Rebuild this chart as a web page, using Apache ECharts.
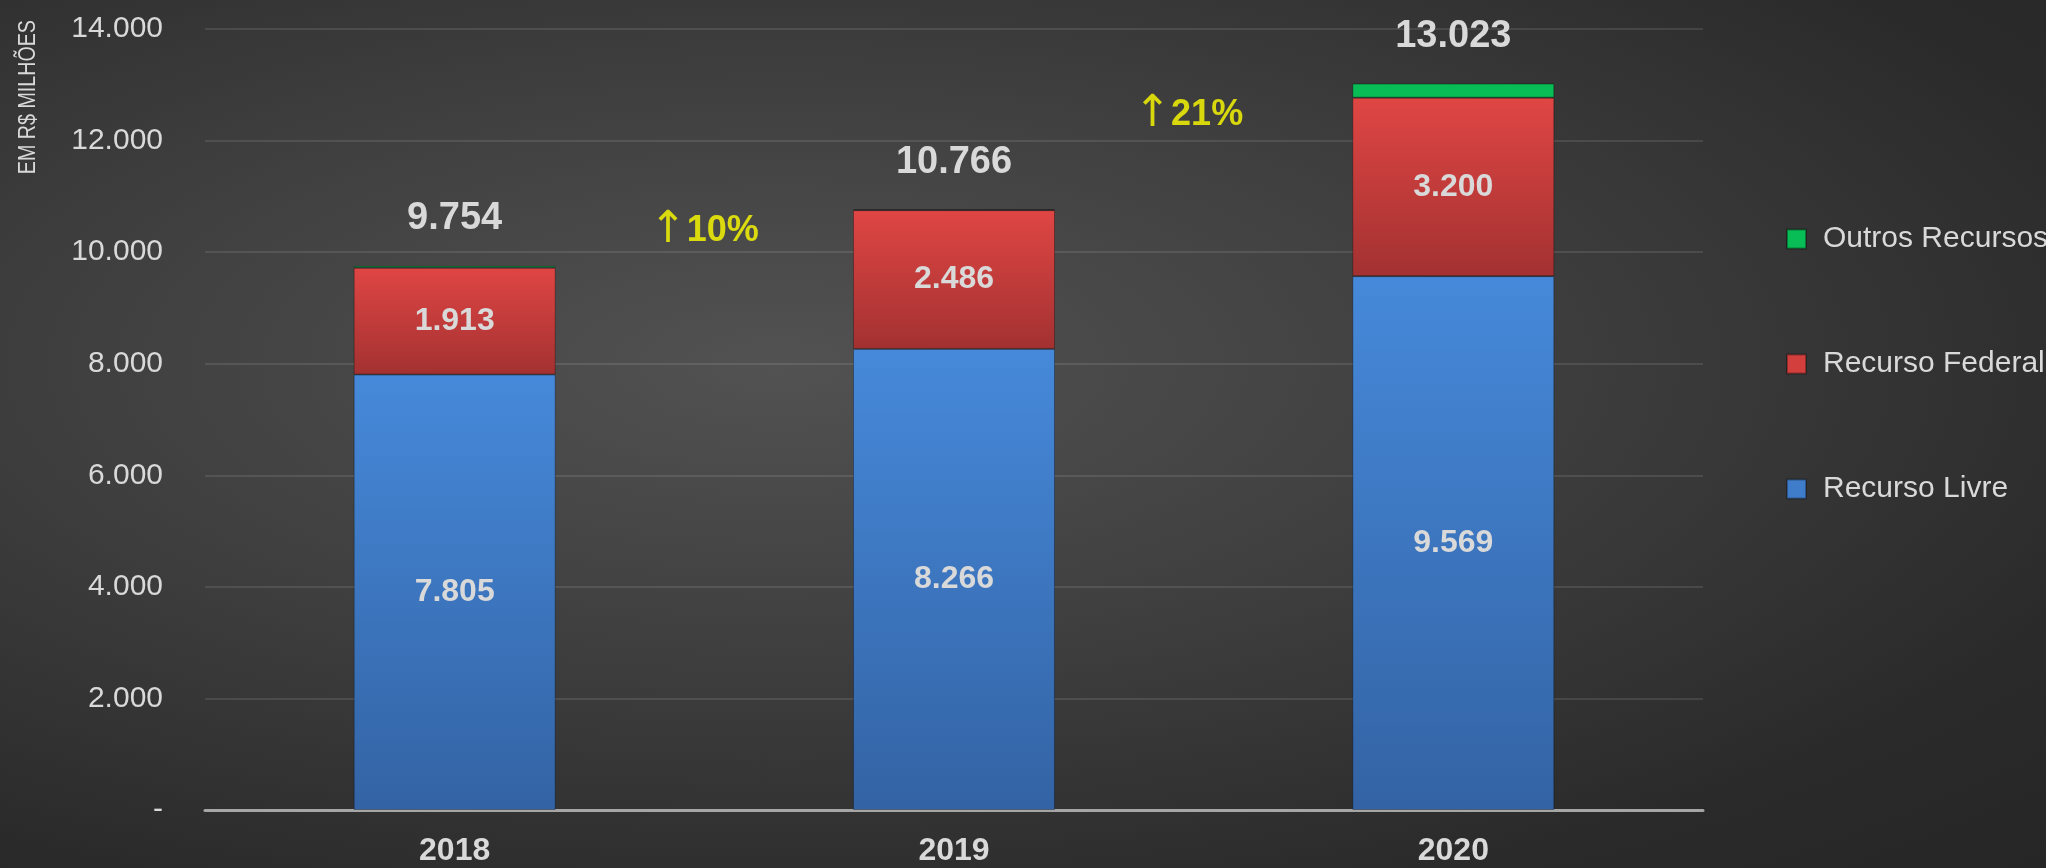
<!DOCTYPE html>
<html lang="pt-BR">
	<head>
		<meta charset="UTF-8" />
		<title>Recursos</title>
		<style>
			body {
				margin: 0;
				padding: 0;
				background: radial-gradient(ellipse at 38% 42%, #525252 0%, #3f3f3f 40%, #2a2a2a 80%, #262626 100%);
			}
			.chart {
				width: 2046px;
				height: 868px;
			}
		</style>
	</head>
	<body>
		<div class="chart"></div>
		<script src="https://cdn.jsdelivr.net/npm/echarts@6/dist/echarts.min.js"></script>
		<script>
			// dados (R$ milhões)
			const anos = ['2018', '2019', '2020'];
			const recursoLivre = [7805, 8266, 9569];
			const recursoFederal = [1913, 2486, 3200];
			const outrosRecursos = [36, 14, 254];
			const totais = [9754, 10766, 13023];
			const crescimento = ['10%', '21%'];
			// onde ficam as setas de crescimento (x entre anos, y em R$ milhões)
			const posCrescimento = [[0.5, 10380], [1.47, 12460]];

			const fmt = v => (v === 0 ? '-' : String(v).replace(/\B(?=(\d{3})+(?!\d))/g, '.'));
			const fonte = 'Liberation Sans';
			const cinza = '#d9d9d9';

			const grad = (a, b) => new echarts.graphic.LinearGradient(0, 0, 0, 1, [
				{ offset: 0, color: a },
				{ offset: 1, color: b }
			]);

			const instance = echarts.init(document.querySelector('.chart'));
			const labelDentro = {
				show: true,
				position: 'inside',
				color: cinza,
				fontFamily: fonte,
				fontWeight: 'bold',
				fontSize: 32,
				formatter: p => fmt(p.value)
			};

			const option = {
				animation: false,
				backgroundColor: 'transparent',
				grid: { left: 205, right: 343, top: 29, bottom: 58 },
				legend: {
					orient: 'vertical',
					left: 1781,
					top: 219,
					itemWidth: 19,
					itemHeight: 19,
					itemGap: 95,
					icon: 'rect',
					textStyle: { color: cinza, fontSize: 30, fontFamily: fonte, lineHeight: 30, padding: [0, 0, 0, 12] },
					data: [
						{ name: 'Outros Recursos', itemStyle: { color: '#08bd55' } },
						{ name: 'Recurso Federal', itemStyle: { color: '#d23f3d' } },
						{ name: 'Recurso Livre', itemStyle: { color: '#3f7cc9' } }
					]
				},
				graphic: [
					{
						type: 'text',
						left: 16,
						top: 20,
						rotation: Math.PI / 2,
						scaleX: 0.82,
						style: { text: 'EM R$ MILHÕES', fill: cinza, font: '24px "Liberation Sans"' }
					}
				],
				xAxis: [
					{
						type: 'category',
						data: anos,
						axisLine: { lineStyle: { color: '#a6a6a6', width: 3 } },
						axisTick: { show: false },
						axisLabel: { color: cinza, fontSize: 32, fontWeight: 'bold', fontFamily: fonte, margin: 25 }
					},
					{ type: 'value', min: -0.5, max: 2.5, show: false }
				],
				yAxis: {
					type: 'value',
					min: 0,
					max: 14000,
					interval: 2000,
					axisLine: { show: false },
					axisTick: { show: false },
					splitLine: { lineStyle: { color: 'rgba(255,255,255,0.1)', width: 2 } },
					axisLabel: { color: cinza, fontSize: 30, fontFamily: fonte, margin: 42, formatter: fmt }
				},
				series: [
					{
						name: 'Recurso Livre',
						type: 'bar',
						stack: 'total',
						barWidth: 202,
						data: recursoLivre,
						itemStyle: { color: grad('#4689da', '#3363a4'), borderColor: 'rgba(0,0,0,0.3)', borderWidth: 1 },
						label: labelDentro
					},
					{
						name: 'Recurso Federal',
						type: 'bar',
						stack: 'total',
						data: recursoFederal,
						itemStyle: { color: grad('#df4644', '#a33131'), borderColor: 'rgba(0,0,0,0.3)', borderWidth: 1 },
						label: labelDentro
					},
					{
						name: 'Outros Recursos',
						type: 'bar',
						stack: 'total',
						data: outrosRecursos,
						itemStyle: { color: '#08bd55', borderColor: 'rgba(0,0,0,0.35)', borderWidth: 1 },
						label: {
							show: true,
							position: 'top',
							distance: 28,
							color: cinza,
							fontFamily: fonte,
							fontWeight: 'bold',
							fontSize: 38,
							formatter: p => fmt(totais[p.dataIndex])
						}
					},
					{
						type: 'scatter',
						xAxisIndex: 1,
						symbolSize: 0,
						data: posCrescimento,
						label: {
							show: true,
							position: 'inside',
							color: '#ffff00',
							fontFamily: fonte,
							fontWeight: 'bold',
							fontSize: 36,
							formatter: p => '{seta|↑}' + crescimento[p.dataIndex],
							rich: {
								seta: {
									color: '#ffff00',
									fontFamily: 'DejaVu Sans',
									fontWeight: 'normal',
									fontSize: 44
								}
							}
						}
					}
				]
			};
			instance.setOption(option);
		</script>
	</body>
</html>
